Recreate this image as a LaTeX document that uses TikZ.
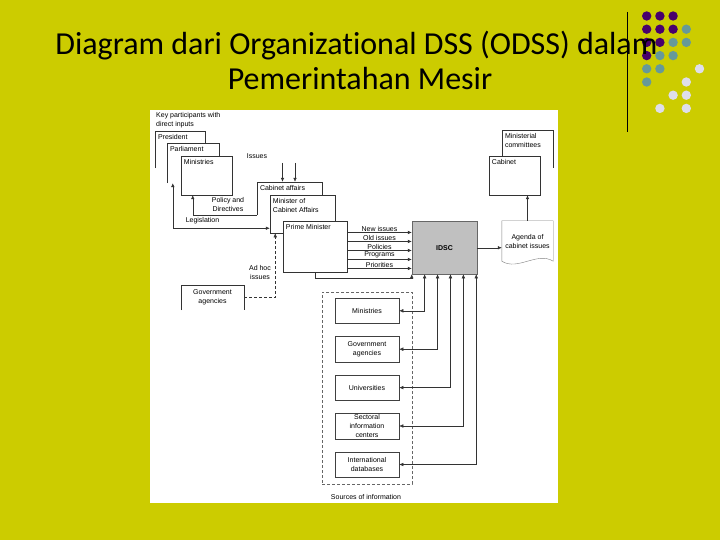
\documentclass[tikz,border=0pt]{standalone}
\usepackage{fontspec}
\setmainfont{Liberation Sans}
\newfontfamily\titlefont[RawFeature=-liga]{Carlito}
\usetikzlibrary{calc,arrows.meta}

\definecolor{slidebg}{RGB}{204,204,0}
\definecolor{dotpurple}{RGB}{72,0,108}
\definecolor{dotteal}{RGB}{102,153,153}
\definecolor{dotpale}{RGB}{222,222,235}
\definecolor{idscgray}{RGB}{192,192,192}

\begin{document}
\begin{tikzpicture}
  [x=1pt,y=-1pt,>={Latex[length=4pt,width=3.6pt]},
   every node/.style={font=\fontsize{7}{9}\selectfont,inner sep=1pt},
   card/.style={fill=white,inner sep=0pt},
   cardlbl/.style={anchor=north west,inner sep=3pt,align=left},
   cardline/.style={draw=black!80,line width=.5pt},
   srcbox/.style={draw=black!75,fill=white,line width=.5pt,minimum width=64pt,minimum height=25.5pt,align=center},
   conn/.style={draw=black!80,line width=.5pt},
   lbl/.style={align=center}]
  % slide background
  \fill[slidebg] (0,0) rectangle (720,540);
  \useasboundingbox (0,0) rectangle (720,540);
  \foreach \c/\r/\col in {0/0/dotpurple,1/0/dotpurple,2/0/dotpurple,
      0/1/dotpurple,1/1/dotpurple,2/1/dotpurple,3/1/dotteal,
      0/2/dotpurple,1/2/dotpurple,2/2/dotteal,3/2/dotteal,
      0/3/dotpurple,1/3/dotteal,2/3/dotteal,
      0/4/dotteal,1/4/dotteal,4/4/dotpale,
      0/5/dotteal,3/5/dotpale,
      2/6/dotpale,3/6/dotpale,
      1/7/dotpale,3/7/dotpale}
    \fill[\col] (646.7+13.2*\c,16+13.2*\r) circle (4.7);
  \draw[line width=.8pt] (627.3,12) -- (627.3,132);
  \node[font=\titlefont\fontsize{32}{38}\selectfont,anchor=base] (title1) at (356.5,55) {Diagram dari Organizational DSS (ODSS) dalam};
  \node[font=\titlefont\fontsize{32}{38}\selectfont,anchor=base] (title2) at (360,90) {Pemerintahan Mesir};
  \fill[white] (150,110) rectangle (558,503);

  % key participants
  \node[anchor=north west,align=left] (keypart) at (155,111) {Key participants with\\direct inputs};
  \node[card,minimum width=50pt,minimum height=37pt,label={[cardlbl]north west:President}] (pres) at (180,149.5) {};
  \draw[cardline] (pres.south west) -- (pres.north west) -- (pres.north east) -- (pres.south east);
  \node[card,minimum width=52pt,minimum height=40pt,label={[cardlbl]north west:Parliament}] (parl) at (193,163) {};
  \draw[cardline] (parl.south west) -- (parl.north west) -- (parl.north east) -- (parl.south east);
  \node[card,cardline,minimum width=51pt,minimum height=39pt,label={[cardlbl]north west:Ministries}] (minis) at (206.5,175.5) {};

  \node[card,minimum width=65pt,minimum height=33pt,label={[cardlbl]north west:Cabinet affairs}] (cabaff) at (289.5,198.5) {};
  \draw[cardline] (cabaff.south west) -- (cabaff.north west) -- (cabaff.north east) -- (cabaff.south east);
  \node[card,cardline,minimum width=65pt,minimum height=38pt,label={[cardlbl]north west:Minister of\\Cabinet Affairs}] (minca) at (302.5,214) {};
  \node[card,cardline,minimum width=64pt,minimum height=50.5pt,label={[cardlbl]north west:Prime Minister}] (pm) at (315,246.75) {};

  \node[card,minimum width=51pt,minimum height=38pt,label={[cardlbl]north west:Ministerial\\committees}] (mcomm) at (527.5,149) {};
  \draw[cardline] (mcomm.south west) -- (mcomm.north west) -- (mcomm.north east) -- (mcomm.south east);
  \node[card,cardline,minimum width=51pt,minimum height=39pt,label={[cardlbl]north west:Cabinet}] (cab) at (514.5,175.5) {};

  \node[card,fill=idscgray,draw=black!60,line width=.5pt,minimum width=65pt,minimum height=52.5pt,font=\fontsize{7}{9}\selectfont\bfseries] (idsc) at (444.5,247.75) {IDSC};
  \node[inner sep=0pt,minimum width=51pt,minimum height=40pt,align=center] (agenda) at (527.5,241) {Agenda of\\cabinet issues};
  \draw[draw=black!50,line width=.4pt] (agenda.south west) |- (agenda.north east) -- (agenda.south east)
    .. controls +(-16,-10) and +(16,10) .. (agenda.south west);

  \node[card,minimum width=63pt,minimum height=25pt,align=center] (govag) at (212.5,297.5) {Government\\agencies};
  \draw[cardline] (govag.south west) -- (govag.north west) -- (govag.north east) -- (govag.south east);

  % sources of information
  \node[draw=black!60,densely dashed,line width=.5pt,minimum width=90pt,minimum height=192pt] (srcframe) at (367,388) {};
  \node[srcbox] (srcmin) at (367,310.8) {Ministries};
  \node[srcbox] (srcgov) at (367,349.2) {Government\\agencies};
  \node[srcbox] (srcuni) at (367,387.6) {Universities};
  \node[srcbox] (srcsec) at (367,426) {Sectoral\\information\\centers};
  \node[srcbox] (srcint) at (367,464.5) {International\\databases};
  \node (srclbl) at (366,497) {Sources of information};

  % labels
  \node (issues) at (257,156) {Issues};
  \node[lbl] (policy) at (228,204.5) {Policy and\\Directives};
  \node (legis) at (202.5,221) {Legislation};
  \node[lbl] (adhoc) at (260,272) {Ad hoc\\issues};

  % connectors
  \coordinate (iss1) at (282.5,163);
  \coordinate (iss2) at (295,163);
  \foreach \i in {iss1,iss2}
    \draw[conn,->] (\i) -- (\i |- cabaff.north);
  \draw[conn,->] (cabaff.south west) -| ($(minis.south west)+(12,0)$);
  \draw[conn,<->] ($(parl.south west)+(6,0)$) |- ($(minca.south west)+(0,-5)$);
  \draw[conn,densely dashed,->] (govag.east) -| ($(minca.south west)+(5.5,0)$);
  \foreach \lab [count=\i] in {New issues,Old issues,Policies,Programs,Priorities}
    \draw[conn,->] ($(pm.north east)+(0,2.2+9*\i)$) -- ($(idsc.north west)+(0,2.2+9*\i)$)
      node[midway,above,inner sep=.8pt] {\lab};
  \draw[conn,->] (pm.south) -- ++(0,6) -| (idsc.south west);
  \foreach \src [count=\i] in {srcmin,srcgov,srcuni,srcsec,srcint}
    \draw[conn,<->] ($(idsc.south west)+(12.9*\i,0)$) |- (\src.east);
  \draw[conn,->] (idsc.east) -- (idsc.east -| agenda.west);
  \draw[conn,->] (agenda.north) -- (agenda.north |- cab.south);
\end{tikzpicture}
\end{document}
